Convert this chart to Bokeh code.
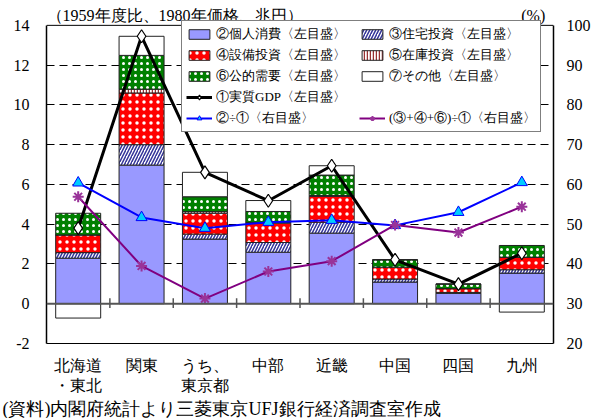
import numpy as np
from bokeh.plotting import figure
from bokeh.models import Range1d, LinearAxis, FixedTicker, Span, Label, Legend, LegendItem, Title
from bokeh.embed import file_html
from bokeh.resources import INLINE

# ---------------- data ----------------
regions = ["北海道\n・東北", "関東", "うち、\n東京都", "中部", "近畿", "中国", "四国", "九州"]
personal  = [2.29, 6.97, 3.25, 2.59, 3.55, 1.09, 0.52, 1.54]
housing   = [0.28, 1.03, 0.25, 0.49, 0.55, 0.15, 0.05, 0.17]
equipment = [0.89, 2.60, 1.05, 0.97, 1.30, 0.60, 0.19, 0.63]
inventory = [0.00, 0.19, 0.08, 0.04, 0.04, 0.00, 0.00, 0.00]
public    = [1.09, 1.70, 0.75, 0.55, 1.03, 0.37, 0.23, 0.59]
other     = [-0.72, 0.96, 1.23, 0.55, 0.47, 0.00, 0.00, -0.42]
gdp       = [3.80, 13.45, 6.61, 5.18, 6.94, 2.21, 0.99, 2.54]
ratio_consumption = [60.4, 51.7, 49.0, 50.5, 51.0, 49.7, 53.0, 60.5]
ratio_investment  = [56.9, 39.5, 31.3, 38.1, 40.7, 49.8, 47.9, 54.4]
left_ticks = list(range(-2, 15, 2))
right_ticks = list(range(20, 101, 10))
grid_ticks = [2, 4, 6, 8, 10, 12]

title_text = "（1959年度比、1980年価格、兆円）"
pct_text = "(%)"
source_text = "(資料)内閣府統計より三菱東京UFJ銀行経済調査室作成"

FONT = "Liberation Serif"

LEFT_MIN, LEFT_MAX = -2, 14
RIGHT_MIN, RIGHT_MAX = 20, 100
TOP_PAD = 1.25  # extra room above the frame top line for the unit texts
k = (RIGHT_MAX - RIGHT_MIN) / (LEFT_MAX - LEFT_MIN)

x = np.arange(len(regions))

p = figure(width=599, height=418, x_range=Range1d(-0.5, len(regions) - 0.5),
           y_range=Range1d(LEFT_MIN, LEFT_MAX + TOP_PAD), output_backend="svg", toolbar_location=None,
           min_border_left=46, min_border_right=46, min_border_top=0, min_border_bottom=75)
p.extra_y_ranges = {"pct": Range1d(RIGHT_MIN, RIGHT_MAX + k * TOP_PAD)}
p.background_fill_color = "white"
p.border_fill_color = "white"
p.outline_line_color = None

# axes
p.yaxis.ticker = FixedTicker(ticks=left_ticks)
p.yaxis.bounds = (LEFT_MIN, LEFT_MAX)
p.yaxis.major_label_overrides = {t: str(t) for t in left_ticks}
p.yaxis.major_tick_line_color = None
p.yaxis.minor_tick_line_color = None
p.yaxis.major_tick_out = 0
p.yaxis.major_tick_in = 0
p.yaxis.axis_line_color = "black"
p.yaxis.axis_line_width = 1.5
p.yaxis.major_label_standoff = 17
p.yaxis.major_label_text_font = FONT
p.yaxis.major_label_text_font_size = "16px"
p.yaxis.major_label_text_color = "black"

right = LinearAxis(y_range_name="pct", ticker=FixedTicker(ticks=right_ticks), bounds=(RIGHT_MIN, RIGHT_MAX))
right.major_tick_line_color = None
right.minor_tick_line_color = None
right.major_tick_out = 0
right.major_tick_in = 0
right.axis_line_color = "black"
right.axis_line_width = 1.5
right.major_label_standoff = 13
right.major_label_text_font = FONT
right.major_label_text_font_size = "16px"
right.major_label_text_color = "black"
p.add_layout(right, "right")

p.xaxis.ticker = FixedTicker(ticks=list(x))
p.xaxis.major_label_overrides = {int(i): lab for i, lab in zip(x, regions)}
p.xaxis.major_tick_line_color = None
p.xaxis.minor_tick_line_color = None
p.xaxis.major_tick_out = 0
p.xaxis.major_tick_in = 0
p.xaxis.axis_line_color = "black"
p.xaxis.major_label_standoff = 13
p.xaxis.major_label_text_font = FONT
p.xaxis.major_label_text_font_size = "16px"
p.xaxis.major_label_text_color = "black"

p.xgrid.visible = False
p.ygrid.ticker = FixedTicker(ticks=grid_ticks)
p.ygrid.grid_line_color = "black"
p.ygrid.grid_line_dash = "8 5"
p.ygrid.grid_line_width = 1

# top border of the frame
p.add_layout(Span(location=LEFT_MAX, dimension="width", line_color="black", line_width=1))

# stacked bars
styles = [
    ("②個人消費〈左目盛〉", personal, dict(fill_color="#9999FF")),
    ("③住宅投資〈左目盛〉", housing, dict(fill_color="white", hatch_pattern="right_diagonal_line",
                                     hatch_color="#333399", hatch_scale=6, hatch_weight=1.5)),
    ("④設備投資〈左目盛〉", equipment, dict(fill_color="#FF0000", hatch_pattern="dot",
                                       hatch_color="white", hatch_scale=7, hatch_weight=1)),
    ("⑤在庫投資〈左目盛〉", inventory, dict(fill_color="white", hatch_pattern="vertical_line",
                                       hatch_color="#993333", hatch_scale=3, hatch_weight=1.5)),
    ("⑥公的需要〈左目盛〉", public, dict(fill_color="#008000", hatch_pattern="dot",
                                    hatch_color="white", hatch_scale=6, hatch_weight=2)),
    ("⑦その他〈左目盛〉", other, dict(fill_color="white")),
]
pos_base = np.zeros(len(x))
neg_base = np.zeros(len(x))
bar_items = {}
for name, vals, st in styles:
    v = np.array(vals, dtype=float)
    bottom = np.where(v >= 0, pos_base, neg_base)
    top = bottom + v
    pos_base = np.where(v >= 0, top, pos_base)
    neg_base = np.where(v < 0, top, neg_base)
    r = p.vbar(x=x, bottom=bottom, top=top, width=0.71, line_color="#222222", line_width=1, **st)
    bar_items[name] = r

# zero line and category ticks
p.add_layout(Span(location=0, dimension="width", line_color="#555555", line_width=2))
bounds = x[:-1] + 0.5
p.segment(x0=bounds, y0=np.full(len(bounds), -0.22), x1=bounds, y1=np.full(len(bounds), 0.28),
          line_color="#555555", line_width=1.5)

# lines
gl = p.line(x, gdp, line_color="black", line_width=3)
gm = p.scatter(x, gdp, marker="diamond", size=13, fill_color="white", line_color="black", line_width=1.2)
bl = p.line(x, ratio_consumption, y_range_name="pct", line_color="#0000FF", line_width=2)
bm = p.scatter(x, ratio_consumption, y_range_name="pct", marker="triangle", size=11,
               fill_color="#00CCFF", line_color="#0000FF", line_width=1)
pl = p.line(x, ratio_investment, y_range_name="pct", line_color="#800080", line_width=2)
pm = p.scatter(x, ratio_investment, y_range_name="pct", marker="asterisk", size=11,
               line_color="#993399", line_width=2)
dummy = p.scatter([0], [0], size=1, fill_alpha=0, line_alpha=0)

items = [
    LegendItem(label="②個人消費〈左目盛〉", renderers=[bar_items["②個人消費〈左目盛〉"]]),
    LegendItem(label="③住宅投資〈左目盛〉", renderers=[bar_items["③住宅投資〈左目盛〉"]]),
    LegendItem(label="④設備投資〈左目盛〉", renderers=[bar_items["④設備投資〈左目盛〉"]]),
    LegendItem(label="⑤在庫投資〈左目盛〉", renderers=[bar_items["⑤在庫投資〈左目盛〉"]]),
    LegendItem(label="⑥公的需要〈左目盛〉", renderers=[bar_items["⑥公的需要〈左目盛〉"]]),
    LegendItem(label="⑦その他〈左目盛〉", renderers=[bar_items["⑦その他〈左目盛〉"]]),
    LegendItem(label="①実質GDP〈左目盛〉", renderers=[gl, gm]),
    LegendItem(label=" ", renderers=[dummy]),
    LegendItem(label="②÷①〈右目盛〉", renderers=[bl, bm]),
    LegendItem(label="(③+④+⑥)÷①〈右目盛〉", renderers=[pl, pm]),
]
legend = Legend(items=items, location=(135, 211), orientation="horizontal", ncols=2,
                label_text_font=FONT, label_text_font_size="13px", label_text_color="black",
                glyph_width=26, glyph_height=12, label_standoff=4, label_width=140, label_height=15,
                spacing=3, padding=4, margin=0, border_line_color="black", border_line_width=1,
                background_fill_color="white", background_fill_alpha=1)
p.add_layout(legend, "center")

# texts
p.add_layout(Label(x=-0.5, y=LEFT_MAX + 0.5, text=title_text, text_font=FONT, text_font_size="16px",
                   text_baseline="middle", text_align="left", text_color="black"))
p.add_layout(Label(x=7.37, y=LEFT_MAX + 0.5, text=pct_text, text_font=FONT, text_font_size="16px",
                   text_baseline="middle", text_align="right", text_color="black"))
p.add_layout(Title(text=source_text, align="left", offset=-44, standoff=0, text_font=FONT,
                   text_font_size="18px", text_font_style="normal", text_color="black"), "below")

open("out.html", "w").write(file_html(p, INLINE))
